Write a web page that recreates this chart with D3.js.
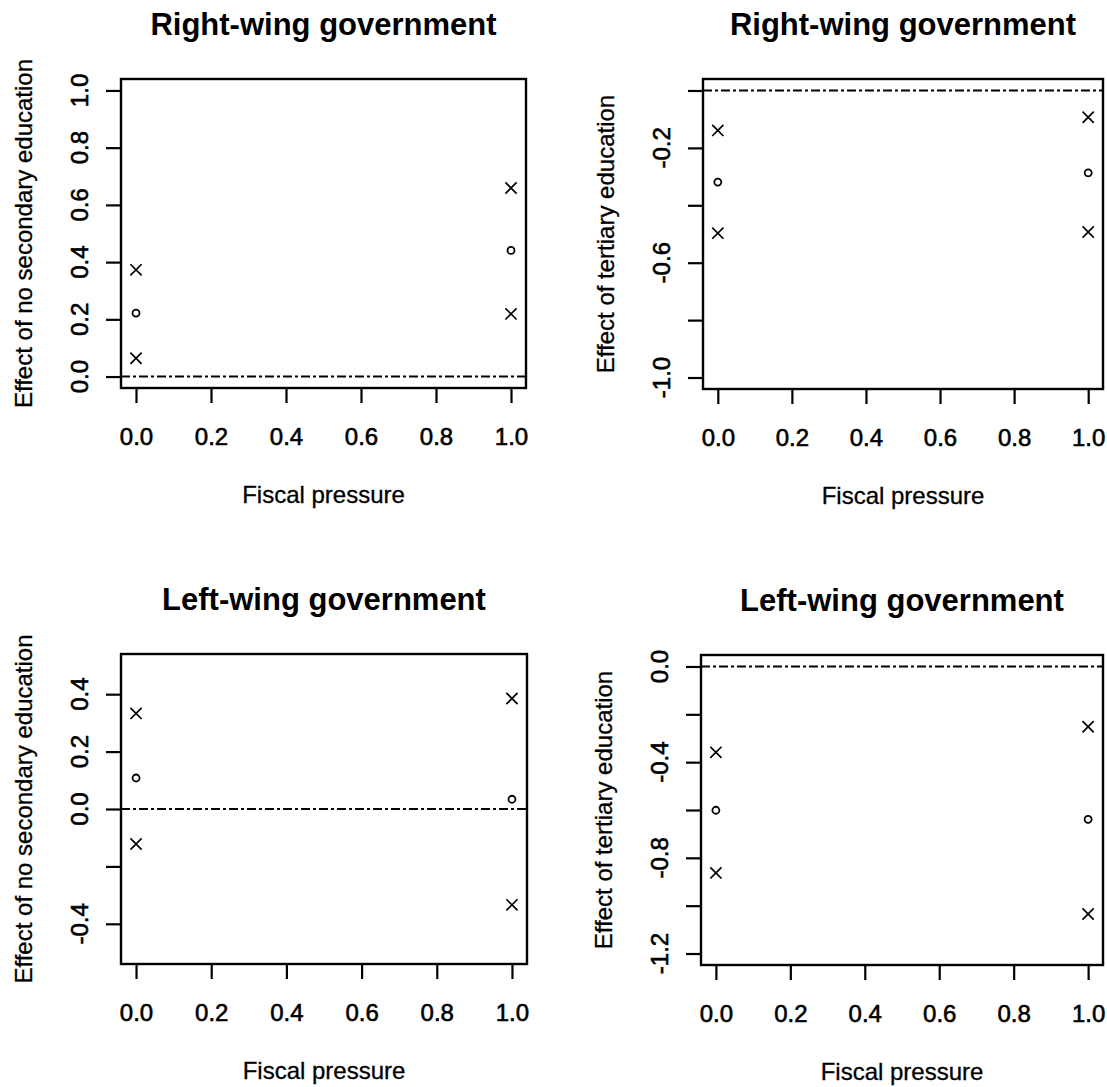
<!DOCTYPE html>
<html>
<head>
<meta charset="utf-8">
<script src="https://cdn.jsdelivr.net/npm/d3@7"></script>
<style>
  body { margin: 0; background: #fff; }
  text { font-family: "Liberation Sans", Arial, sans-serif; fill: #000; }
</style>
</head>
<body>
<svg id="chart" width="1107" height="1087"></svg>
<script>
// Fiscal pressure values at which each effect is estimated
const fiscalPressure = [0, 1];
const xTicks = [0, 0.2, 0.4, 0.6, 0.8, 1.0];

// Right-wing government, effect of no secondary education
const rightNoSecLower = [0.064, 0.219];
const rightNoSecEst   = [0.222, 0.441];
const rightNoSecUpper = [0.373, 0.659];

// Right-wing government, effect of tertiary education
const rightTertLower = [-0.497, -0.493];
const rightTertEst   = [-0.319, -0.287];
const rightTertUpper = [-0.139, -0.093];

// Left-wing government, effect of no secondary education
const leftNoSecLower = [-0.122, -0.334];
const leftNoSecEst   = [0.108, 0.034];
const leftNoSecUpper = [0.333, 0.385];

// Left-wing government, effect of tertiary education
const leftTertLower = [-0.863, -1.035];
const leftTertEst   = [-0.601, -0.639];
const leftTertUpper = [-0.359, -0.252];

// Axis ranges (before the usual 4% padding) and tick marks / labelled ticks
const yRangeTL = [0, 1];
const yTicksTL = [0, 0.2, 0.4, 0.6, 0.8, 1.0];
const yLabelsTL = [0, 0.2, 0.4, 0.6, 0.8, 1.0];

const yRangeTR = [-1, 0];
const yTicksTR = [-1.0, -0.8, -0.6, -0.4, -0.2, 0];
const yLabelsTR = [-1.0, -0.6, -0.2];

const yRangeBL = [-0.5, 0.5];
const yTicksBL = [-0.4, -0.2, 0, 0.2, 0.4];
const yLabelsBL = [-0.4, 0, 0.2, 0.4];

const yRangeBR = [-1.2, 0];
const yTicksBR = [-1.2, -1.0, -0.8, -0.6, -0.4, -0.2, 0];
const yLabelsBR = [-1.2, -0.8, -0.4, 0];

const titleRight = "Right-wing government";
const titleLeft = "Left-wing government";
const labelNoSec = "Effect of no secondary education";
const labelTert = "Effect of tertiary education";
const labelX = "Fiscal pressure";

const panels = [
  { title: titleRight, ylab: labelNoSec, yr: yRangeTL, ticks: yTicksTL, labels: yLabelsTL,
    lo: rightNoSecLower, est: rightNoSecEst, hi: rightNoSecUpper,
    box: { x0: 121, x1: 526, y0: 79, y1: 388 } },
  { title: titleRight, ylab: labelTert, yr: yRangeTR, ticks: yTicksTR, labels: yLabelsTR,
    lo: rightTertLower, est: rightTertEst, hi: rightTertUpper,
    box: { x0: 703, x1: 1103, y0: 79, y1: 389 } },
  { title: titleLeft, ylab: labelNoSec, yr: yRangeBL, ticks: yTicksBL, labels: yLabelsBL,
    lo: leftNoSecLower, est: leftNoSecEst, hi: leftNoSecUpper,
    box: { x0: 121, x1: 527, y0: 654, y1: 964 } },
  { title: titleLeft, ylab: labelTert, yr: yRangeBR, ticks: yTicksBR, labels: yLabelsBR,
    lo: leftTertLower, est: leftTertEst, hi: leftTertUpper,
    box: { x0: 701, x1: 1103, y0: 655, y1: 965 } }
];

// R-style axis padding: extend range by 4% on each side
function padded(r) {
  const d = (r[1] - r[0]) * 0.04;
  return [r[0] - d, r[1] + d];
}

const svg = d3.select("#chart");
// one decimal, plain hyphen for negatives
const fmt = v => d3.format(".1f")(v).replace("\u2212", "-");
const tickLen = 15;

panels.forEach(p => {
  const b = p.box;
  const x = d3.scaleLinear().domain(padded([0, 1])).range([b.x0, b.x1]);
  const y = d3.scaleLinear().domain(padded(p.yr)).range([b.y1, b.y0]);
  const g = svg.append("g");

  // zero reference line
  g.append("line")
    .attr("x1", b.x0).attr("x2", b.x1)
    .attr("y1", y(0)).attr("y2", y(0))
    .attr("stroke", "#000").attr("stroke-width", 2)
    .attr("stroke-dasharray", "9,3,3,3");

  // x axis
  const xa = g.append("g")
    .attr("transform", `translate(0,${b.y1})`)
    .call(d3.axisBottom(x).tickValues(xTicks).tickSize(tickLen).tickFormat(fmt));
  xa.select(".domain").remove();
  xa.selectAll(".tick line").attr("stroke", "#000").attr("stroke-width", 2.2);
  xa.selectAll(".tick text")
    .attr("y", 57).attr("dy", 0)
    .attr("font-size", 24).attr("font-family", "Liberation Sans, Arial, sans-serif")
    .attr("fill", "#000").attr("stroke", "#000").attr("stroke-width", 0.6);

  // y axis: ticks with labels only where they fit
  const ya = g.append("g")
    .attr("transform", `translate(${b.x0},0)`)
    .call(d3.axisLeft(y).tickValues(p.ticks).tickSize(tickLen).tickFormat(""));
  ya.select(".domain").remove();
  ya.selectAll(".tick line").attr("stroke", "#000").attr("stroke-width", 2.2);

  g.selectAll(".ylab")
    .data(p.labels)
    .join("text")
    .attr("class", "ylab")
    .attr("transform", d => `translate(${b.x0 - 42},${y(d)}) rotate(-90)`)
    .attr("text-anchor", "middle")
    .attr("dy", "0.36em")
    .attr("font-size", 24)
    .attr("stroke", "#000").attr("stroke-width", 0.6)
    .text(d => fmt(d));

  // plot box
  g.append("rect")
    .attr("x", b.x0).attr("y", b.y0)
    .attr("width", b.x1 - b.x0).attr("height", b.y1 - b.y0)
    .attr("fill", "none").attr("stroke", "#000").attr("stroke-width", 2.4);

  // confidence bounds as crosses
  const crosses = fiscalPressure.flatMap((f, i) => [
    { f, v: p.lo[i] }, { f, v: p.hi[i] }
  ]);
  const s = 5.6;
  g.selectAll(".cross")
    .data(crosses)
    .join("path")
    .attr("class", "cross")
    .attr("d", d => {
      const cx = x(d.f), cy = y(d.v);
      return `M${cx - s},${cy - s}L${cx + s},${cy + s}M${cx - s},${cy + s}L${cx + s},${cy - s}`;
    })
    .attr("stroke", "#000").attr("stroke-width", 1.7).attr("fill", "none");

  // point estimates as open circles
  g.selectAll(".est")
    .data(fiscalPressure.map((f, i) => ({ f, v: p.est[i] })))
    .join("circle")
    .attr("class", "est")
    .attr("cx", d => x(d.f)).attr("cy", d => y(d.v))
    .attr("r", 3.5)
    .attr("fill", "none").attr("stroke", "#000").attr("stroke-width", 1.8);

  // titles and axis labels
  g.append("text")
    .attr("x", (b.x0 + b.x1) / 2).attr("y", b.y0 - 44)
    .attr("text-anchor", "middle")
    .attr("font-size", 31).attr("font-weight", "bold")
    .text(p.title);

  g.append("text")
    .attr("x", (b.x0 + b.x1) / 2).attr("y", b.y1 + 115)
    .attr("text-anchor", "middle")
    .attr("font-size", 24)
    .attr("stroke", "#000").attr("stroke-width", 0.3)
    .text(labelX);

  g.append("text")
    .attr("transform", `translate(${b.x0 - 98},${(b.y0 + b.y1) / 2}) rotate(-90)`)
    .attr("text-anchor", "middle")
    .attr("dy", "0.36em")
    .attr("font-size", 24)
    .attr("stroke", "#000").attr("stroke-width", 0.3)
    .text(p.ylab);
});
</script>
</body>
</html>
